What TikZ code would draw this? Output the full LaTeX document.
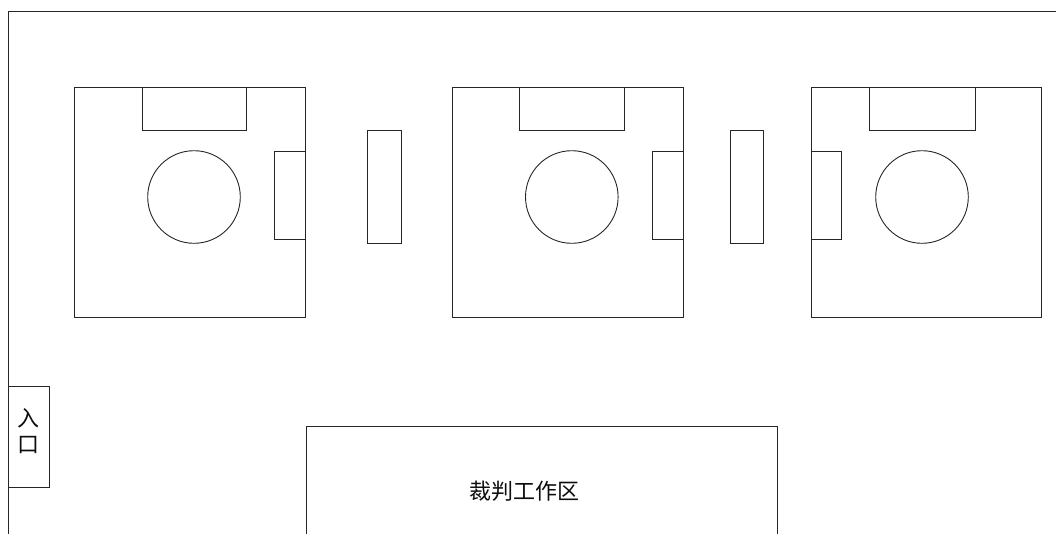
\documentclass[tikz,border=0pt]{standalone}
\usepackage{fontspec}
\newfontfamily\cjk{Noto Sans CJK SC}
\begin{document}
\begin{tikzpicture}[x=1pt,y=-1pt,
  ln/.style={draw=black!85,line width=0.9pt},
  box/.style={ln,rectangle,inner sep=0pt,outer sep=0pt,anchor=north west},
  seat/.style={ln,circle,inner sep=0pt,outer sep=0pt,minimum size=92.6pt},
  lbl/.style={font=\cjk\fontsize{22}{28}\selectfont,text=black!95}]
\useasboundingbox (0,0) rectangle (1056,533);
\clip (0,0) rectangle (1056,533);
% outer wall
\coordinate (wbl) at (8,560);
\coordinate (wtl) at (8,11.7);
\coordinate (wtr) at (1080,11.7);
\draw[ln] (wbl) -- (wtl) -- (wtr);
% room 1
\node[box,minimum width=231.3pt,minimum height=230pt] (room1) at (74.5,87) {};
\node[box,minimum width=104.7pt,minimum height=43pt] (desk1) at (142,87) {};
\node[seat] (seat1) at (194,197) {};
\node[box,minimum width=31pt,minimum height=88pt] (side1) at (274.8,151.3) {};
% stand 1
\node[box,minimum width=34pt,minimum height=113.3pt] (stand1) at (367,130) {};
% room 2
\node[box,minimum width=231.3pt,minimum height=230pt] (room2) at (452,87) {};
\node[box,minimum width=104.7pt,minimum height=43pt] (desk2) at (519.3,87) {};
\node[seat] (seat2) at (571.8,197) {};
\node[box,minimum width=31pt,minimum height=88pt] (side2) at (652.3,151.3) {};
% stand 2
\node[box,minimum width=33pt,minimum height=113.3pt] (stand2) at (730.3,130) {};
% room 3
\node[box,minimum width=230.7pt,minimum height=230pt] (room3) at (811,87) {};
\node[box,minimum width=105.7pt,minimum height=43pt] (desk3) at (869.3,87) {};
\node[seat] (seat3) at (922,197) {};
\node[box,minimum width=30pt,minimum height=88pt] (side3) at (811,151.3) {};
% entrance
\node[box,minimum width=41.3pt,minimum height=100.6pt] (entry) at (8,386.7) {};
\node[lbl,align=center,inner sep=0pt] (entrytext) at (28.5,431) {入\\[-2pt]口};
% referee area
\node[box,minimum width=471.7pt,minimum height=140pt] (referee) at (306,426.7) {};
\node[lbl,inner sep=0pt] (reftext) at (524.7,491) {裁判工作区};
\end{tikzpicture}
\end{document}
